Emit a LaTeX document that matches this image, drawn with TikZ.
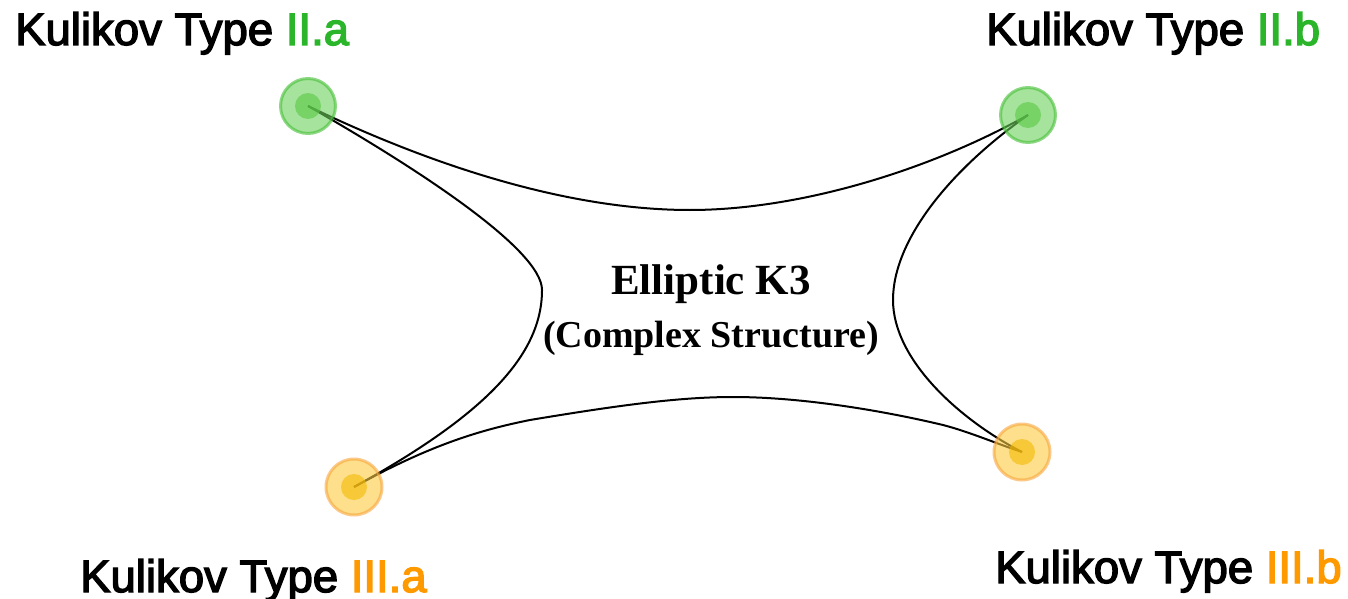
\documentclass[tikz,border=0pt]{standalone}
\usepackage{fontspec}
\setmainfont{Liberation Serif}
\newfontfamily\labfont[FakeBold=3]{Liberation Sans}
\usetikzlibrary{backgrounds}
\definecolor{gOut}{HTML}{6BD05A}
\definecolor{gBord}{HTML}{43BE34}
\definecolor{gIn}{HTML}{59CA45}
\definecolor{oOut}{HTML}{FBCA3F}
\definecolor{oBord}{HTML}{F8A53C}
\definecolor{oIn}{HTML}{F5B900}
\definecolor{gText}{HTML}{2BB52B}
\definecolor{oText}{HTML}{FF9900}
\tikzset{
  dotg/.style={circle, minimum size=55pt, inner sep=0pt, fill=gOut, draw=gBord, line width=3pt, opacity=0.6,
    path picture={\fill[gIn] (path picture bounding box.center) circle (13pt);}},
  doto/.style={circle, minimum size=56pt, inner sep=0pt, fill=oOut, draw=oBord, line width=3pt, opacity=0.6,
    path picture={\fill[oIn] (path picture bounding box.center) circle (13pt);}},
  lab/.style={anchor=base west, inner sep=0pt, font=\labfont\fontsize{45.5}{50}\selectfont},
  edge/.style={draw=black, line width=2pt},
}
\begin{document}
\begin{tikzpicture}[x=1pt,y=-1pt]
\useasboundingbox (0,0) rectangle (1348,599);
\node[dotg] (a) at (308,106) {};
\node[dotg] (b) at (1028,115) {};
\node[doto] (c) at (354,487) {};
\node[doto] (d) at (1022,452) {};
\begin{scope}[on background layer]
\draw[edge] (a.center) .. controls (420,160) and (560,210) .. (690,210)
  .. controls (800,210) and (930,170) .. (b.center);
\draw[edge] (a.center) .. controls (420,170) and (542,250) .. (542,290)
  .. controls (542,355) and (485,415) .. (c.center);
\draw[edge] (b.center) .. controls (950,170) and (893,240) .. (893,300)
  .. controls (893,360) and (960,420) .. (d.center);
\draw[edge] (c.center) .. controls (430,445) and (480,430) .. (530,420)
  .. controls (620,405) and (680,397) .. (733,397)
  .. controls (800,397) and (880,410) .. (943,425)
  .. controls (970,432) and (1000,445) .. (d.center);
\end{scope}
\node[lab] (la) at (15,45) {Kulikov Type \textcolor{gText}{II.a}};
\node[lab] (lb) at (986,45) {Kulikov Type \textcolor{gText}{II.b}};
\node[lab] (lc) at (80,592) {Kulikov Type \textcolor{oText}{III.a}};
\node[lab] (ld) at (995,583) {Kulikov Type \textcolor{oText}{III.b}};
\node[font=\bfseries\fontsize{43}{48}\selectfont, inner sep=0pt] (t1) at (711,284) {Elliptic K3};
\node[font=\bfseries\fontsize{38}{44}\selectfont, inner sep=0pt] (t2) at (711,338) {(Complex Structure)};
\end{tikzpicture}
\end{document}
